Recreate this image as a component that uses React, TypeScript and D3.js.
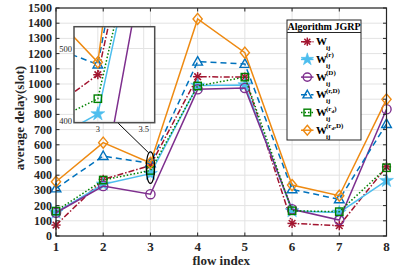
import React from 'react'
import * as d3 from 'd3'

const flows = [1, 2, 3, 4, 5, 6, 7, 8]
const wij = [72, 372, 464, 1048, 1045, 83, 68, 455]
const wr = [155, 340, 410, 990, 993, 165, 155, 364]
const wD = [153, 329, 275, 965, 974, 176, 105, 834]
const wrD = [313, 526, 478, 1147, 1132, 307, 241, 737]
const wrd = [164, 368, 431, 987, 1045, 166, 160, 449]
const wrdD = [357, 614, 481, 1428, 1206, 335, 265, 899]
const yTicks = d3.range(0, 1501, 100)
const insetXTicks = [3, 3.5]
const insetYTicks = [400, 500]

type Series = { key: string; sup: string; sub?: string; supTail?: string; values: number[]; color: string; dash: string; marker: string }

const series: Series[] = [
  { key: 'w', sup: '', values: wij, color: '#A2142F', dash: '6,2,1.5,2', marker: 'asterisk' },
  { key: 'r', sup: '(r)', values: wr, color: '#4DBEEE', dash: '', marker: 'pentagram' },
  { key: 'D', sup: '(D)', values: wD, color: '#7E2F8E', dash: '', marker: 'circle' },
  { key: 'rD', sup: '(r,D)', values: wrD, color: '#0072BD', dash: '6,4', marker: 'triangle' },
  { key: 'rd', sup: '(r', sub: 'd', supTail: ')', values: wrd, color: '#008000', dash: '1.5,2', marker: 'square' },
  { key: 'rdD', sup: '(r', sub: 'd', supTail: ',D)', values: wrdD, color: '#EE8A12', dash: '', marker: 'diamond' },
]

const FONT = 'Liberation Serif, Times New Roman, serif'

function Marker({ type, x, y, color, s = 1 }: { type: string; x: number; y: number; color: string; s?: number }) {
  const r = 4.6 * s
  if (type === 'circle') return <circle cx={x} cy={y} r={r} fill="none" stroke={color} strokeWidth={1.4} />
  if (type === 'square') return <rect x={x - r * 0.8} y={y - r * 0.8} width={r * 1.6} height={r * 1.6} fill="none" stroke={color} strokeWidth={1.4} />
  if (type === 'diamond') return <path d={`M${x},${y - r * 1.2}L${x + r},${y}L${x},${y + r * 1.2}L${x - r},${y}Z`} fill="none" stroke={color} strokeWidth={1.4} />
  if (type === 'triangle') return <path d={`M${x},${y - r * 1.1}L${x + r * 1.05},${y + r * 0.75}L${x - r * 1.05},${y + r * 0.75}Z`} fill="none" stroke={color} strokeWidth={1.4} />
  if (type === 'pentagram') {
    const p = d3.symbol(d3.symbolStar, 60 * s * s)()
    return <path d={p || ''} transform={`translate(${x},${y})`} fill={color} stroke={color} strokeWidth={0.6} />
  }
  const a = r * 0.72
  return (
    <g stroke={color} strokeWidth={1.5}>
      <line x1={x - r} y1={y} x2={x + r} y2={y} />
      <line x1={x} y1={y - r} x2={x} y2={y + r} />
      <line x1={x - a} y1={y - a} x2={x + a} y2={y + a} />
      <line x1={x - a} y1={y + a} x2={x + a} y2={y - a} />
    </g>
  )
}

export default function App() {
  const W = 415, H = 272
  const x = d3.scaleLinear().domain([1, 8]).range([56, 386.5])
  const y = d3.scaleLinear().domain([0, 1500]).range([236, 8])
  const ix = d3.scaleLinear().domain([2.74, 3.62]).range([74, 154.7])
  const iy = d3.scaleLinear().domain([398, 530]).range([122.7, 26.7])

  const line = d3.line<number>().x((_, i) => x(flows[i])).y(d => y(d))
  const iline = d3.line<number>().x((_, i) => ix(flows[i])).y(d => iy(d))

  const legX = 287, legY = 20, legW = 74, legH = 120

  return (
    <svg width={W} height={H} style={{ position: 'absolute', left: 0, top: 0 }} fontFamily={FONT}>
      <rect width={W} height={H} fill="#fff" />
      {/* grid */}
      {flows.map(f => <line key={'gx' + f} x1={x(f)} x2={x(f)} y1={y(0)} y2={y(1500)} stroke="#e3e3e3" strokeWidth={1} />)}
      {yTicks.map(t => <line key={'gy' + t} x1={x(1)} x2={x(8)} y1={y(t)} y2={y(t)} stroke="#e3e3e3" strokeWidth={1} />)}

      {/* series */}
      {series.map(s => (
        <g key={s.key}>
          <path d={line(s.values) || ''} fill="none" stroke={s.color} strokeWidth={1.5} strokeDasharray={s.dash} />
          {s.values.map((v, i) => <Marker key={i} type={s.marker} x={x(flows[i])} y={y(v)} color={s.color} />)}
        </g>
      ))}

      {/* axes box */}
      <rect x={x(1)} y={y(1500)} width={x(8) - x(1)} height={y(0) - y(1500)} fill="none" stroke="#262626" strokeWidth={1.2} />
      {flows.map(f => (
        <g key={'tx' + f}>
          <line x1={x(f)} x2={x(f)} y1={y(0)} y2={y(0) - 3.5} stroke="#262626" />
          <line x1={x(f)} x2={x(f)} y1={y(1500)} y2={y(1500) + 3.5} stroke="#262626" />
          <text x={x(f)} y={y(0) + 14.5} textAnchor="middle" fontSize={13} fontWeight="bold" fill="#262626">{f}</text>
        </g>
      ))}
      {yTicks.map(t => (
        <g key={'ty' + t}>
          <line x1={x(1)} x2={x(1) + 3.5} y1={y(t)} y2={y(t)} stroke="#262626" />
          <line x1={x(8)} x2={x(8) - 3.5} y1={y(t)} y2={y(t)} stroke="#262626" />
          <text x={x(1) - 4} y={y(t) + 4} textAnchor="end" fontSize={12} fontWeight="bold" fill="#262626">{t}</text>
        </g>
      ))}
      <text x={(x(1) + x(8)) / 2} y={264.5} textAnchor="middle" fontSize={13} fontWeight="bold" fill="#262626">flow index</text>
      <text transform={`translate(24,${(y(0) + y(1500)) / 2 - 4}) rotate(-90)`} textAnchor="middle" fontSize={13} fontWeight="bold" fill="#262626">average delay(slot)</text>

      {/* zoom ellipse & connector */}
      <ellipse cx={x(3)} cy={y(450)} rx={4.2} ry={15.8} fill="none" stroke="#000" strokeWidth={1.2} />
      <line x1={118} y1={123} x2={x(3) - 2} y2={y(450) - 15} stroke="#000" strokeWidth={1} />

      {/* inset */}
      <defs>
        <clipPath id="insetClip"><rect x={74} y={26.7} width={80.7} height={96} /></clipPath>
      </defs>
      <rect x={74} y={26.7} width={80.7} height={96} fill="#fff" />
      <g clipPath="url(#insetClip)">
        {insetXTicks.map(t => <line key={'igx' + t} x1={ix(t)} x2={ix(t)} y1={26.7} y2={122.7} stroke="#e3e3e3" />)}
        {insetYTicks.map(t => <line key={'igy' + t} x1={74} x2={154.7} y1={iy(t)} y2={iy(t)} stroke="#e3e3e3" />)}
        {series.map(s => (
          <g key={'i' + s.key}>
            <path d={iline(s.values) || ''} fill="none" stroke={s.color} strokeWidth={1.5} strokeDasharray={s.dash} />
            <Marker type={s.marker} x={ix(3)} y={iy(s.values[2])} color={s.color} />
          </g>
        ))}
      </g>
      <rect x={74} y={26.7} width={80.7} height={96} fill="none" stroke="#4d4d4d" strokeWidth={1.5} />
      {insetXTicks.map(t => (
        <text key={'itx' + t} x={ix(t)} y={132} textAnchor="middle" fontSize={8.5} fill="#262626">{t}</text>
      ))}
      {insetYTicks.map(t => (
        <text key={'ity' + t} x={72} y={iy(t) + 3} textAnchor="end" fontSize={8.5} fill="#262626">{t}</text>
      ))}

      {/* legend */}
      <rect x={legX} y={legY} width={legW} height={legH} fill="#fff" stroke="#262626" strokeWidth={1} />
      <line x1={legX} x2={legX + legW} y1={legY + 12.5} y2={legY + 12.5} stroke="#262626" strokeWidth={1} />
      <text x={legX + legW / 2} y={legY + 9.5} textAnchor="middle" fontSize={10} fontWeight="bold" fill="#000">Algorithm JGRP</text>
      {series.map((s, i) => {
        const ly = 41.7 + i * 17.7
        return (
          <g key={'l' + s.key}>
            <line x1={301} x2={313.5} y1={ly} y2={ly} stroke={s.color} strokeWidth={1.5} strokeDasharray={s.dash} />
            <Marker type={s.marker} x={307.3} y={ly} color={s.color} s={0.9} />
            <text x={316} y={ly + 3.5} fontSize={11} fontWeight="bold" fill="#000">W</text>
            <text x={326} y={ly + 8.5} fontSize={7} fontWeight="bold" fill="#000">ij</text>
            {s.sup && (
              <text x={326} y={ly - 2} fontSize={7} fontWeight="bold" fill="#000">
                {s.sup}
                {s.sub && <tspan fontSize={5} dy={2}>{s.sub}</tspan>}
                {s.supTail && <tspan dy={s.sub ? -2 : 0}>{s.supTail}</tspan>}
              </text>
            )}
          </g>
        )
      })}
    </svg>
  )
}
